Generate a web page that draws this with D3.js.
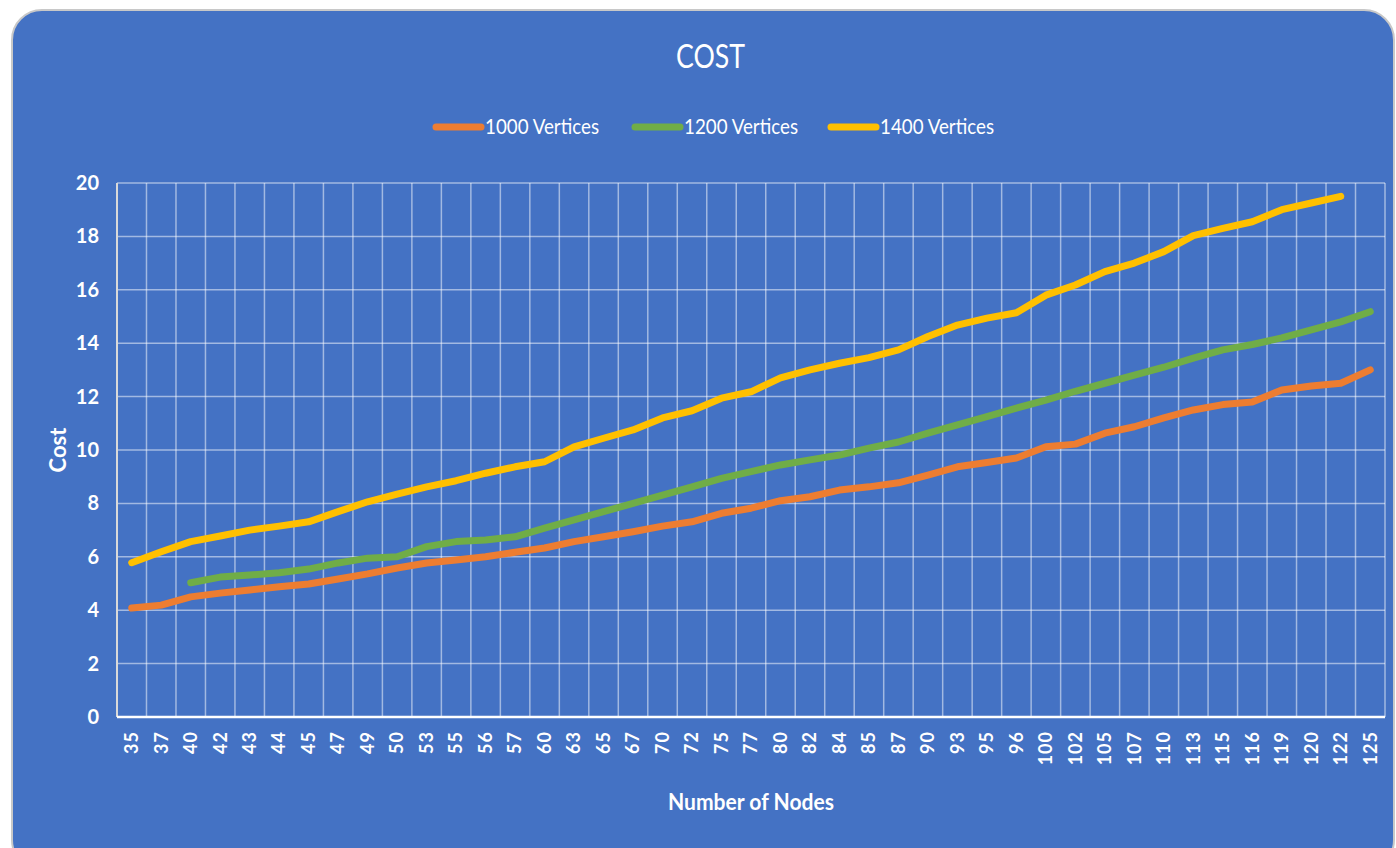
<!DOCTYPE html>
<html>
<head>
<meta charset="utf-8">
<script src="https://cdn.jsdelivr.net/npm/d3@7"></script>
<style>
  body { margin: 0; background: #ffffff; }
  text { font-family: Lato, "Open Sans", "Noto Sans", sans-serif; fill: #ffffff; }
</style>
</head>
<body>
<script>
const WIDTH = 1396;
const HEIGHT = 848;

// Categorías del eje X (número de nodos)
const nodos = ["35","37","40","42","43","44","45","47","49","50","53","55","56","57","60","63","65","67","70","72",
  "75","77","80","82","84","85","87","90","93","95","96","100","102","105","107","110","113","115","116","119",
  "120","122","125"];

// Valores de cada serie (null = sin dato)
const costo1000 = [4.08,4.19,4.5,4.64,4.76,4.88,4.98,5.17,5.36,5.58,5.77,5.88,6.0,6.17,6.33,6.57,6.75,6.94,7.15,7.31,
  7.63,7.82,8.1,8.25,8.5,8.62,8.77,9.06,9.37,9.53,9.7,10.12,10.22,10.63,10.87,11.2,11.5,11.7,11.8,12.25,
  12.4,12.5,13.0];
const costo1200 = [null,null,5.03,5.24,5.32,5.4,5.54,5.77,5.95,6.0,6.38,6.57,6.63,6.75,7.07,7.38,7.69,8.0,8.31,8.62,
  8.94,9.19,9.44,9.63,9.81,10.07,10.3,10.63,10.94,11.25,11.57,11.87,12.2,12.5,12.8,13.1,13.44,13.75,13.95,14.2,
  14.5,14.8,15.18];
const costo1400 = [5.78,6.19,6.57,6.78,7.0,7.15,7.31,7.69,8.06,8.35,8.62,8.85,9.13,9.37,9.56,10.12,10.44,10.75,11.2,11.47,
  11.94,12.18,12.7,13.0,13.25,13.46,13.75,14.25,14.68,14.94,15.14,15.8,16.18,16.68,17.0,17.43,18.03,18.3,18.55,19.0,
  19.25,19.5,null];

const nombresSeries = ["1000 Vertices", "1200 Vertices", "1400 Vertices"];
const colores = ["#ED7D31", "#70AD47", "#FFC000"];
const yTicks = [0, 2, 4, 6, 8, 10, 12, 14, 16, 18, 20];

const series = [costo1000, costo1200, costo1400];

const svg = d3.select("body")
  .append("svg")
  .attr("width", WIDTH)
  .attr("height", HEIGHT);

// Fondo azul con esquinas redondeadas
svg.append("rect")
  .attr("x", 12).attr("y", 10)
  .attr("width", 1382).attr("height", 860)
  .attr("rx", 30)
  .attr("fill", "#4472C4")
  .attr("stroke", "#c8c8c8")
  .attr("stroke-width", 2);

const margen = { left: 117, right: 1385, top: 183, bottom: 717 };

const x = d3.scaleBand()
  .domain(nodos)
  .range([margen.left, margen.right]);

const y = d3.scaleLinear()
  .domain([0, 20])
  .range([margen.bottom, margen.top]);

// Grilla
const grilla = svg.append("g");
grilla.selectAll("line.h")
  .data(yTicks)
  .join("line")
  .attr("class", "h")
  .attr("x1", margen.left).attr("x2", margen.right)
  .attr("y1", (d) => y(d)).attr("y2", (d) => y(d))
  .attr("stroke", "#ffffff")
  .attr("stroke-opacity", 0.5)
  .attr("stroke-width", 1.5);

const bordes = nodos.map((n) => x(n)).concat([margen.right]);
grilla.selectAll("line.v")
  .data(bordes)
  .join("line")
  .attr("class", "v")
  .attr("x1", (d) => d).attr("x2", (d) => d)
  .attr("y1", margen.top).attr("y2", margen.bottom)
  .attr("stroke", "#ffffff")
  .attr("stroke-opacity", 0.5)
  .attr("stroke-width", 1.5);

// Ejes
svg.append("line")
  .attr("x1", margen.left).attr("x2", margen.left)
  .attr("y1", margen.top).attr("y2", margen.bottom)
  .attr("stroke", "#d9d9d9").attr("stroke-width", 2);
svg.append("line")
  .attr("x1", margen.left).attr("x2", margen.right)
  .attr("y1", margen.bottom).attr("y2", margen.bottom)
  .attr("stroke", "#ffffff").attr("stroke-width", 2.5);

const ejeY = svg.append("g")
  .attr("transform", `translate(${margen.left},0)`)
  .call(d3.axisLeft(y).tickValues(yTicks).tickSize(0).tickPadding(18));
ejeY.select(".domain").remove();
ejeY.selectAll("text")
  .attr("fill", "#ffffff")
  .style("font-size", "20px")
  .style("font-weight", "bold");

const ejeX = svg.append("g")
  .attr("transform", `translate(0,${margen.bottom})`)
  .call(d3.axisBottom(x).tickSize(0));
ejeX.select(".domain").remove();
ejeX.selectAll("text")
  .attr("fill", "#ffffff")
  .style("font-size", "18px")
  .style("font-weight", "bold")
  .style("letter-spacing", "1px")
  .attr("text-anchor", "end")
  .attr("transform", "rotate(-90)")
  .attr("x", -14)
  .attr("y", 0)
  .attr("dy", "0.35em");

// Líneas
const linea = d3.line()
  .defined((d) => d !== null)
  .x((d, i) => x(nodos[i]) + x.bandwidth() / 2)
  .y((d) => y(d));

svg.selectAll("path.serie")
  .data(series)
  .join("path")
  .attr("class", "serie")
  .attr("d", linea)
  .attr("fill", "none")
  .attr("stroke", (d, i) => colores[i])
  .attr("stroke-width", 7)
  .attr("stroke-linecap", "round")
  .attr("stroke-linejoin", "round");

// Título y etiquetas (texto algo condensado, como en el original)
svg.append("text")
  .attr("x", 676).attr("y", 68)
  .attr("textLength", 69)
  .attr("lengthAdjust", "spacingAndGlyphs")
  .style("font-size", "33px")
  .text("COST");

svg.append("text")
  .attr("transform", "translate(66,450) rotate(-90)")
  .attr("text-anchor", "middle")
  .style("font-size", "22px")
  .style("font-weight", "bold")
  .text("Cost");

svg.append("text")
  .attr("x", 668).attr("y", 810)
  .attr("textLength", 166)
  .attr("lengthAdjust", "spacingAndGlyphs")
  .style("font-size", "22px")
  .style("font-weight", "bold")
  .text("Number of Nodes");

// Leyenda
const posLeyenda = [434, 633, 829];
const leyenda = svg.selectAll("g.leyenda")
  .data(nombresSeries)
  .join("g")
  .attr("class", "leyenda")
  .attr("transform", (d, i) => `translate(${posLeyenda[i]},127)`);
leyenda.append("line")
  .attr("x1", 2).attr("x2", 47)
  .attr("stroke", (d, i) => colores[i])
  .attr("stroke-width", 7)
  .attr("stroke-linecap", "round");
leyenda.append("text")
  .attr("x", 51)
  .attr("dy", "0.35em")
  .attr("textLength", 114)
  .attr("lengthAdjust", "spacingAndGlyphs")
  .style("font-size", "21px")
  .text((d) => d);
</script>
</body>
</html>
